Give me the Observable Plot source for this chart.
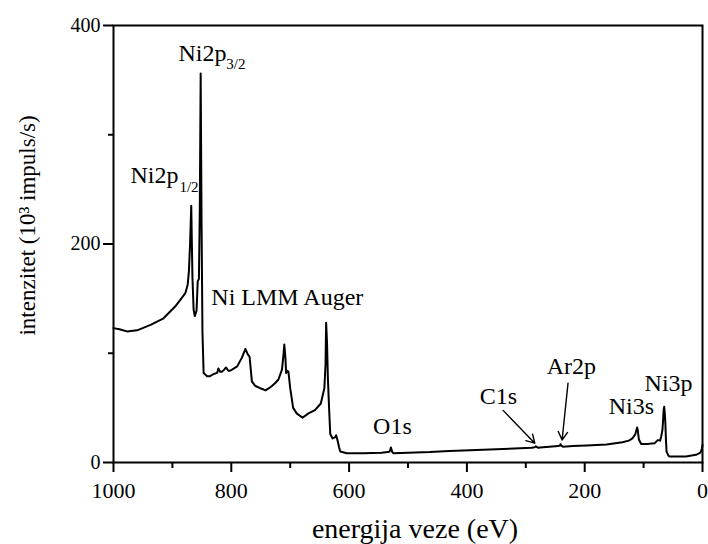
<!DOCTYPE html>
<html>
<head>
<meta charset="utf-8">
<script src="https://cdn.jsdelivr.net/npm/d3@7"></script>
<script src="https://cdn.jsdelivr.net/npm/@observablehq/plot@0.6"></script>
<style>
  html, body { margin: 0; padding: 0; background: white; }
  #chart { width: 708px; height: 544px; }
  #chart svg, #chart svg text { font-family: "Liberation Serif", "Times New Roman", Times, serif !important; }
</style>
</head>
<body>
<div id="chart"></div>
<script>
// Spectrum: binding energy (eV) and intensity (10^3 impuls/s)
const energy = [1000, 990, 977, 960, 937, 915, 895, 885, 878, 874, 872, 870, 868, 866, 864, 862, 859, 857, 855, 853.5, 852, 850.5, 849, 847, 841, 836, 830, 824, 822, 819, 816, 812, 809, 805, 802, 796, 790, 782, 776, 772, 769, 765, 759, 751, 746, 742, 736, 731, 725, 720, 714, 712, 710, 708, 707, 705, 703, 700, 695, 689, 679, 669, 658, 648, 642, 640, 639, 637.5, 636, 634, 632, 628, 624, 622, 620, 617, 615, 604, 590, 576, 560, 545, 534, 531, 529, 527, 525, 500, 463, 430, 395, 350, 310, 290, 285, 283, 281, 279, 276, 260, 245, 242, 241, 240, 237, 220, 197, 163, 136, 125, 119, 114, 112, 111, 110, 108, 104, 98, 93, 86, 81, 76, 72, 70, 68, 67, 66, 65, 64, 63, 62, 61, 58, 56, 45, 28, 11, 5, 2.5, 1, 0];
const intensity = [123, 122, 120, 121, 126, 132, 143, 150, 155, 163, 175, 200, 235, 170, 140, 134, 139, 166, 168, 230, 356, 220, 120, 82, 79, 79, 81, 82, 86, 83, 83, 85, 87, 84, 84, 86, 88, 96, 104, 99, 97, 74, 70, 68, 67, 66, 68, 70, 73, 76, 85, 95, 108, 95, 82, 84, 83, 68, 50, 45, 41, 45, 48, 54, 68, 90, 128, 110, 77, 50, 26, 22, 23, 25, 21, 14, 10, 8.5, 8.5, 8.5, 8.7, 9, 9.5, 10, 13.8, 10, 8.5, 9, 9.5, 10.5, 11.3, 12.2, 13, 13.5, 14, 14.8, 14, 13.5, 13.8, 14.5, 15, 15.5, 16.8, 15.5, 14.5, 15, 15.5, 16.5, 18.6, 20, 22, 26, 30, 32, 30, 21, 17, 17, 17, 17.5, 17.7, 20.5, 20, 24, 30, 38, 48, 51, 45, 35, 20, 10, 6.5, 5.5, 5.5, 5.5, 7, 8.5, 10, 13, 16];

// Axis ticks
const xTicks = [1000, 800, 600, 400, 200, 0];
const xMinorTicks = [900, 700, 500, 300, 100];
const yTicks = [0, 200, 400];
const yMinorTicks = [100, 300];

// Axis titles
const xTitle = "energija veze (eV)";
const yTitle = "intenzitet (10³ impuls/s)";

// Peak labels (anchor = start of text baseline, in data units)
const labelText = ["Ni2p", "Ni2p", "Ni LMM Auger", "O1s", "C1s", "Ar2p", "Ni3s", "Ni3p"];
const labelE = [889.8, 971.2, 833.9, 559.3, 378, 264.4, 159.3, 98.3];
const labelI = [367.9, 256.2, 144, 25.7, 54, 80.7, 44, 65];

// Subscripts
const subText = ["3/2", "1/2"];
const subE = [808.5, 888.1];
const subI = [360, 247.7];

// Arrows
const arrowE1 = [338.5, 228.3];
const arrowI1 = [47.7, 72.6];
const arrowE2 = [284.7, 238.4];
const arrowI2 = [17.7, 20.6];

// y title anchor (data units, left of the axis)
const yTitleE = 1145;
const yTitleI = 217;

const spectrum = energy.map((e, i) => ({e, v: intensity[i]}));
const labels = labelText.map((t, i) => ({t, e: labelE[i], v: labelI[i]}));
const subs = subText.map((t, i) => ({t, e: subE[i], v: subI[i]}));
const arrows = arrowE1.map((e, i) => ({x1: e, y1: arrowI1[i], x2: arrowE2[i], y2: arrowI2[i]}));

const font = "Liberation Serif, Times New Roman, Times, serif";

const chart = Plot.plot({
  width: 708,
  height: 544,
  marginLeft: 113,
  marginRight: 6,
  marginTop: 25,
  marginBottom: 82,
  style: {fontFamily: font, color: "black", background: "white", overflow: "visible"},
  x: {domain: [1000, 0]},
  y: {domain: [0, 400]},
  marks: [
    Plot.axisX(xTicks, {tickSize: 10, tickPadding: 10, fontSize: 22, fontFamily: font, strokeWidth: 2, label: null, tickFormat: d => String(d)}),
    Plot.axisX(xMinorTicks, {tickSize: 6, tickFormat: () => "", strokeWidth: 2, label: null}),
    Plot.axisY(yTicks, {tickSize: 10, tickPadding: 3, fontSize: 20, fontFamily: font, strokeWidth: 2, label: null, tickFormat: d => String(d)}),
    Plot.axisY(yMinorTicks, {tickSize: 5, tickFormat: () => "", strokeWidth: 2, label: null}),
    Plot.frame({stroke: "black", strokeWidth: 2}),
    Plot.line(spectrum, {x: "e", y: "v", stroke: "black", strokeWidth: 2, strokeLinejoin: "round"}),
    Plot.text(labels, {x: "e", y: "v", text: "t", textAnchor: "start", lineAnchor: "bottom", fontSize: 24, fontFamily: font, fill: "black"}),
    Plot.text(subs, {x: "e", y: "v", text: "t", textAnchor: "start", lineAnchor: "bottom", fontSize: 15, fontFamily: font, fill: "black"}),
    Plot.arrow(arrows, {x1: "x1", y1: "y1", x2: "x2", y2: "y2", stroke: "black", strokeWidth: 1.4, headLength: 10}),
    Plot.text([xTitle], {frameAnchor: "bottom", dx: 7, dy: 75, lineAnchor: "bottom", fontSize: 28, fontFamily: font, fill: "black"}),
    Plot.text([{t: yTitle, e: yTitleE, v: yTitleI}], {x: "e", y: "v", text: "t", rotate: -90, lineAnchor: "middle", textAnchor: "middle", fontSize: 23, fontFamily: font, fill: "black", clip: false})
  ]
});

document.getElementById("chart").appendChild(chart);
</script>
</body>
</html>
